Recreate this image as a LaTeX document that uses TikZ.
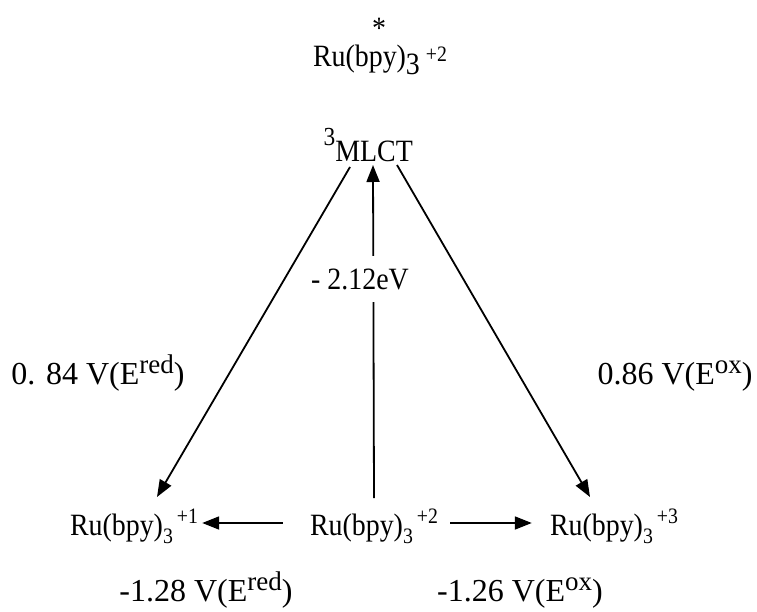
\documentclass[tikz,border=0pt]{standalone}
\usepackage{fontspec}
\setmainfont{Liberation Serif}[FakeStretch=0.9]
\newfontfamily\widefont{Liberation Serif}
\usetikzlibrary{arrows.meta}
\newcommand{\msub}[1]{\raisebox{-8pt}{\fontsize{22}{26}\selectfont #1}}
\newcommand{\msup}[2][12pt]{\raisebox{#1}{\fontsize{22}{26}\selectfont #2}}
\newcommand{\esup}[1]{\raisebox{11pt}{\fontsize{27}{30}\selectfont #1}}
\begin{document}
\begin{tikzpicture}[x=1pt,y=1pt,
  lbl/.style={inner sep=0pt, font=\fontsize{31}{36}\selectfont},
  elbl/.style={inner sep=0pt, font=\widefont\fontsize{32}{36}\selectfont},
  arr/.style={line width=1.8pt, -{Triangle[length=17pt,width=13pt]}}]
\useasboundingbox (0,0) rectangle (757,611);
% top
\node[lbl,anchor=base] (star) at (379,572) {*};
\node[lbl,anchor=base] (excited) at (380,544) {Ru(bpy)\raisebox{-8pt}{3}\hspace{6pt}\msup[5pt]{+2}};
\node[lbl,anchor=base east] (mlct) at (413,449) {\raisebox{16pt}{\fontsize{26}{30}\selectfont 3}MLCT};
% bottom row
\node[lbl,anchor=base] (lft) at (134,76) {Ru(bpy)\msub{3}\hspace{4pt}\msup{+1}};
\node[lbl,anchor=base] (mid) at (374,76) {Ru(bpy)\msub{3}\hspace{4pt}\msup{+2}};
\node[lbl,anchor=base] (rgt) at (614,76) {Ru(bpy)\msub{3}\hspace{4pt}\msup{+3}};
% connectors
\draw[arr] ([shift={(-27pt,12pt)}]mid.base west) -- ([shift={(4pt,12pt)}]lft.base east);
\draw[arr] ([shift={(12pt,12pt)}]mid.base east) -- ([shift={(-18pt,12pt)}]rgt.base west);
\draw[arr] ([yshift=37pt]mid.base) -- ([shift={(-40pt,-3pt)}]mlct.base east);
\draw[arr] ([shift={(-63pt,-5pt)}]mlct.base east) -- ([shift={(23pt,38pt)}]lft.base);
\draw[arr] ([shift={(-16pt,-3pt)}]mlct.base east) -- ([shift={(-24pt,38pt)}]rgt.base);
% labels
\node[lbl,anchor=base,fill=white,inner xsep=2pt,inner ysep=12pt,text height=22pt,text depth=0pt] (gap) at (360,321) {- 2.12eV};
\node[elbl,anchor=base] (redup) at (98,227) {0. 84 V(E\esup{red})};
\node[elbl,anchor=base] (oxup) at (675,227) {0.86 V(E\esup{ox})};
\node[elbl,anchor=base] (reddn) at (206,10) {-1.28 V(E\esup{red})};
\node[elbl,anchor=base] (oxdn) at (520,10) {-1.26 V(E\esup{ox})};
\end{tikzpicture}
\end{document}
